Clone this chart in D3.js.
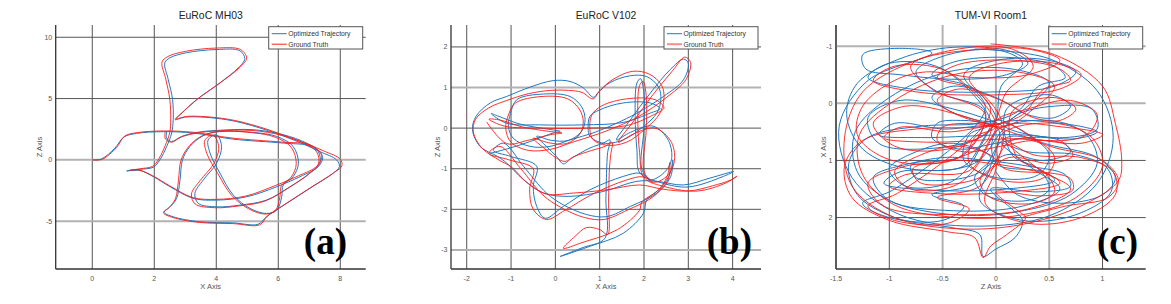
<!DOCTYPE html>
<html>
<head>
<meta charset="utf-8">
<script src="https://cdn.jsdelivr.net/npm/d3@7"></script>
<style>
  body { margin: 0; background: #fff; }
  text { font-family: "Liberation Sans", Arial, sans-serif; }
</style>
</head>
<body>
<svg id="chart" width="1171" height="304"></svg>
<script>
// titles, labels, ticks
const titles = ['EuRoC MH03', 'EuRoC V102', 'TUM-VI Room1'];
const tags = ['(a)', '(b)', '(c)'];
const xLabels = ['X Axis', 'X Axis', 'Z Axis'];
const yLabels = ['Z Axis', 'Z Axis', 'X Axis'];
const legendNames = ['Optimized Trajectory', 'Ground Truth'];

const mh03XTicks = [0, 2, 4, 6, 8];
const mh03YTicks = [-5, 0, 5, 10];
const v102XTicks = [-2, -1, 0, 1, 2, 3, 4];
const v102YTicks = [-3, -2, -1, 0, 1, 2];
const room1XTicks = [-1.5, -1, -0.5, 0, 0.5, 1];
const room1YTicks = [-1, 0, 1, 2];

// EuRoC MH03 (x, z)
const mh03Opt = [[0,0],[0.3,0.08],[0.73,0.96],[1.02,1.86],[1.43,2.16],[2.29,2.3],[3.26,2.19],[4.55,1.69],[6.16,1.37],[7.08,1.09],[7.43,0.27],[7.29,-0.55],[6.7,-1.37],[5.95,-2.19],[4.98,-3.01],[4.01,-3.28],[3.26,-3.14],[2.51,-2.19],[1.97,-1.37],[1.54,-0.87],[1.11,-0.9],[1.54,-0.77],[1.97,-0.6],[2.18,0],[2.4,1.09],[2.56,2.19],[2.61,3.28],[2.59,4.92],[2.45,6.56],[2.34,7.92],[2.51,8.33],[3.04,8.74],[4.01,9.0],[4.76,8.9],[4.92,8.25],[4.71,7.51],[4.12,6.28],[3.37,4.92],[2.83,3.69],[2.67,3.28],[3.04,3.5],[4.33,3.28],[5.41,2.6],[6.48,1.64],[7.34,0.68],[7.88,0],[7.97,-0.55],[7.77,-1.09],[7.02,-2.32],[6.27,-3.55],[5.62,-4.64],[5.35,-5.25],[4.55,-5.14],[3.47,-5.05],[2.61,-4.64],[2.31,-4.26],[2.51,-3.83],[2.72,-3.14],[2.83,-1.64],[2.91,0],[3.15,1.09],[3.58,1.97],[4.12,2.32],[5.19,2.24],[5.95,1.91],[6.48,1.09],[6.65,-0.27],[6.48,-1.37],[6.16,-2.05],[6.11,-3.01],[5.95,-4.1],[5.62,-4.37],[5.09,-3.96],[4.55,-2.87],[4.12,-1.09],[3.8,0.55],[3.74,1.64],[4.01,2.05],[4.17,1.09],[4.01,-0.27],[3.58,-1.64],[3.31,-2.73],[3.42,-3.55],[4.01,-3.83],[4.76,-3.69],[5.62,-3.28],[6.38,-2.19],[7.02,-1.09],[7.34,-0.27],[7.29,0.68],[6.91,1.37],[6.16,2.05],[5.19,2.46],[4.01,2.4],[3.37,2.24],[2.88,1.91],[2.56,1.5],[2.4,1.78],[2.4,2.32]];
const mh03Gt = [[0,0],[0.32,0.05],[0.78,1.0],[1.05,1.95],[1.45,2.22],[2.3,2.36],[3.25,2.25],[4.5,1.78],[6.1,1.45],[7.05,1.2],[7.4,0.35],[7.25,-0.5],[6.65,-1.3],[5.9,-2.1],[4.95,-2.95],[4.0,-3.22],[3.25,-3.08],[2.5,-2.12],[1.95,-1.3],[1.5,-0.82],[1.2,-0.85],[1.55,-0.72],[1.95,-0.52],[2.15,0.1],[2.35,1.15],[2.5,2.25],[2.53,3.35],[2.5,4.95],[2.37,6.6],[2.25,7.98],[2.43,8.42],[3.0,8.85],[4.0,9.12],[4.78,9.0],[4.98,8.3],[4.76,7.55],[4.15,6.33],[3.4,4.97],[2.86,3.75],[2.7,3.35],[3.07,3.55],[4.35,3.33],[5.43,2.66],[6.5,1.7],[7.45,0.75],[8.0,0.05],[8.05,-0.5],[7.82,-1.0],[7.05,-2.25],[6.3,-3.48],[5.65,-4.58],[5.4,-5.3],[4.55,-5.2],[3.45,-5.1],[2.6,-4.7],[2.3,-4.32],[2.48,-3.88],[2.68,-3.18],[2.78,-1.68],[2.86,-0.05],[3.1,1.05],[3.52,1.93],[4.07,2.3],[5.15,2.22],[5.9,1.85],[6.42,1.02],[6.58,-0.32],[6.42,-1.4],[6.1,-2.1],[6.05,-3.05],[5.9,-4.15],[5.58,-4.42],[5.05,-4.0],[4.5,-2.9],[4.05,-1.12],[3.7,0.5],[3.63,1.6],[3.9,2.0],[4.08,1.05],[3.92,-0.3],[3.48,-1.68],[3.2,-2.78],[3.32,-3.6],[3.95,-3.9],[4.72,-3.76],[5.58,-3.35],[6.35,-2.25],[6.98,-1.15],[7.3,-0.3],[7.24,0.64],[6.86,1.33],[6.12,2.0],[5.15,2.4],[4.0,2.35],[3.35,2.18],[2.86,1.85],[2.55,1.44],[2.36,1.72],[2.35,2.28]];

// EuRoC V102 (x, z)
const v102Opt = [[-1.47,-0.62],[-1.02,-0.49],[-0.57,-0.33],[-0.05,-0.12],[0.11,-0.08],[-0.2,-0.02],[-0.8,0.1],[-1.3,0.3],[-1.45,0.36],[-1.1,0.12],[-0.35,0.08],[0.63,0.08],[1.53,0.14],[2.14,0.37],[2.36,0.48],[2.14,0.62],[1.53,0.62],[1.0,0.45],[0.78,0.29],[0.74,0.0],[0.78,-0.2],[1.08,-0.37],[1.53,-0.29],[1.99,0.04],[2.29,0.37],[2.38,0.7],[2.33,1.01],[2.06,1.27],[1.69,1.29],[1.23,1.12],[0.97,0.88],[0.86,0.76],[0.63,0.99],[0.33,1.15],[-0.05,1.17],[-0.57,1.01],[-1.1,0.78],[-1.47,0.62],[-1.79,0.29],[-1.87,-0.04],[-1.7,-0.45],[-1.3,-0.7],[-1.1,-0.86],[-0.72,-1.27],[-0.27,-1.6],[0.33,-1.68],[1.08,-1.56],[1.84,-1.31],[2.29,-1.31],[2.89,-1.4],[3.49,-1.23],[4.02,-1.07],[3.79,-1.19],[3.0,-1.45],[2.4,-1.35],[1.91,-1.11],[1.84,-0.53],[1.8,0.29],[1.84,1.11],[1.92,1.22],[2.0,0.85],[2.0,0.0],[1.95,-1.0],[2.14,-1.27],[2.45,-1.1],[2.62,-0.78],[2.55,-0.3],[2.2,0.05],[1.7,-0.1],[1.38,-0.29],[1.69,0.2],[2.14,0.86],[2.59,1.44],[2.89,1.7],[3.0,1.6],[2.89,1.19],[2.44,0.78],[1.84,0.37],[1.38,0.12],[0.9,-0.1],[0.33,-0.29],[-0.12,-0.45],[-0.57,-0.45],[-0.95,-0.25],[-1.06,0.04],[-1.01,0.37],[-0.87,0.7],[-0.27,0.84],[0.33,0.78],[0.59,0.53],[0.67,0.21],[0.59,-0.08],[0.3,-0.3],[-0.1,-0.3],[-0.42,-0.2],[-0.2,-0.45],[0.03,-0.7],[0.18,-0.88],[0.37,-0.74],[0.78,-0.49],[1.08,-0.37],[1.23,-0.29],[1.18,-0.6],[1.16,-0.94],[1.14,-1.77],[1.12,-2.71],[0.6,-2.95],[0.11,-3.16],[0.78,-2.91],[1.53,-2.59],[1.99,-2.09],[2.06,-1.77],[2.4,-1.45],[2.59,-1.11],[2.65,-0.78],[2.6,-1.2],[2.29,-1.6],[1.69,-1.93],[1.16,-2.18],[0.71,-2.13],[0.18,-1.89],[-0.2,-1.6],[-0.72,-0.94],[-1.17,-0.37],[-1.4,-0.55],[-1.0,-0.7],[-0.42,-0.94],[-0.5,-1.44],[-0.42,-1.93],[-0.23,-2.22],[0.18,-1.93],[0.78,-1.52],[1.53,-1.19],[1.91,-1.11],[2.14,-1.27]];
const v102Gt = [[-1.55,0.15],[-1.1,-0.38],[-0.62,-0.3],[-0.1,-0.16],[0.15,-0.12],[-0.15,-0.08],[-0.75,0.03],[-1.25,0.2],[-1.5,0.22],[-1.15,0.05],[-0.3,0.0],[0.7,0.0],[1.6,0.06],[2.2,0.32],[2.45,0.5],[2.25,0.7],[1.6,0.72],[1.05,0.55],[0.82,0.32],[0.78,-0.05],[0.85,-0.28],[1.15,-0.42],[1.6,-0.35],[2.05,0.0],[2.35,0.35],[2.45,0.72],[2.4,1.05],[2.12,1.33],[1.75,1.4],[1.3,1.2],[1.0,0.92],[0.85,0.72],[0.6,0.88],[0.3,0.93],[-0.1,0.93],[-0.6,0.85],[-1.1,0.68],[-1.5,0.5],[-1.8,0.22],[-1.85,-0.1],[-1.65,-0.5],[-1.25,-0.8],[-1.0,-0.95],[-0.65,-1.33],[-0.2,-1.62],[0.4,-1.6],[1.15,-1.52],[1.9,-1.4],[2.4,-1.5],[3.0,-1.55],[3.55,-1.42],[3.95,-1.28],[4.1,-1.18],[3.85,-1.35],[3.2,-1.55],[2.5,-1.45],[2.0,-1.22],[1.9,-0.6],[1.86,0.22],[1.9,1.05],[1.98,1.15],[2.05,0.8],[2.05,-0.05],[2.0,-1.05],[2.2,-1.33],[2.5,-1.2],[2.68,-0.85],[2.62,-0.35],[2.25,0.0],[1.75,-0.15],[1.42,-0.35],[1.75,0.15],[2.2,0.82],[2.65,1.42],[2.92,1.75],[3.05,1.62],[2.95,1.2],[2.5,0.75],[1.9,0.3],[1.42,0.05],[0.95,-0.15],[0.38,-0.35],[-0.1,-0.52],[-0.6,-0.55],[-1.0,-0.35],[-1.12,0.0],[-1.05,0.35],[-0.9,0.62],[-0.3,0.78],[0.28,0.72],[0.55,0.45],[0.63,0.15],[0.55,-0.15],[0.25,-0.38],[-0.15,-0.36],[-0.5,-0.25],[-0.25,-0.5],[0.0,-0.72],[0.22,-0.82],[0.42,-0.7],[0.82,-0.55],[1.12,-0.45],[1.28,-0.35],[1.25,-0.65],[1.22,-1.0],[1.2,-1.8],[1.18,-2.62],[1.0,-2.5],[0.7,-2.45],[0.45,-2.66],[0.18,-2.96],[0.6,-2.82],[1.4,-2.5],[1.9,-2.02],[1.95,-1.82],[2.3,-1.55],[2.52,-1.2],[2.58,-0.85],[2.55,-1.25],[2.22,-1.68],[1.62,-2.02],[1.1,-2.25],[0.65,-2.2],[0.12,-1.95],[-0.28,-1.65],[-0.78,-1.0],[-1.25,-0.45],[-1.5,-0.62],[-1.05,-0.78],[-0.5,-1.0],[-0.58,-1.5],[-0.5,-2.0],[-0.2,-2.25],[0.22,-2.02],[0.85,-1.62],[1.6,-1.28],[1.98,-1.2],[2.2,-1.35]];

// TUM-VI Room1 (z, x)
const room1Opt = [[-0.2,-0.95],[0.5,-0.78],[0.95,-0.22],[1.1,0.6],[0.95,1.4],[0.5,1.97],[-0.2,2.15],[-0.9,1.95],[-1.35,1.3],[-1.47,0.4],[-1.2,-0.4],[-0.6,-0.88],[-0.95,-0.96],[-1.25,-0.85],[-1.22,-0.6],[-0.9,-0.5],[-0.35,-0.42],[0.1,-0.5],[0.3,-0.7],[0.15,-0.9],[-0.4,-0.98],[-0.9,-0.78],[-1.3,-0.35],[-1.4,0.2],[-1.25,0.8],[-0.8,1.15],[-0.2,1.05],[0.05,0.5],[0.2,0.2],[0.55,0.05],[0.9,0.1],[0.95,0.45],[0.65,0.6],[0.2,0.5],[-0.05,0.3],[-0.4,0.1],[-0.9,-0.05],[-1.2,0.25],[-1.1,0.7],[-0.55,0.78],[-0.1,0.55],[0.0,0.3],[0.05,-0.3],[0.25,-0.7],[0.05,-0.92],[-0.45,-0.85],[-0.75,-0.55],[-0.55,-0.2],[-0.1,0.15],[-0.3,0.9],[-0.8,1.05],[-1.15,1.3],[-1.0,1.7],[-0.4,1.88],[0.25,1.8],[0.6,1.5],[0.35,1.15],[0.05,0.7],[0.3,0.85],[0.75,0.9],[1.05,1.15],[1.08,1.55],[0.75,1.95],[0.25,2.05],[-0.15,1.7],[-0.05,1.1],[0.02,0.45],[-0.5,0.45],[-0.95,0.35],[-1.1,0.55],[-0.7,0.6],[0.2,0.55],[0.75,0.62],[0.95,0.5],[0.6,0.35],[0.0,0.38],[-0.3,1.1],[-0.9,1.2],[-1.05,1.4],[-0.6,1.52],[0.1,1.5],[0.55,1.35],[0.45,1.2],[0.0,1.05],[0.0,0.5],[0.5,0.3],[0.85,0.55],[0.95,1.05],[0.7,1.6],[0.2,1.9],[-0.4,1.95],[-1.0,1.7],[-1.3,1.2],[-1.32,0.5],[-1.0,-0.1],[-0.45,-0.55],[0.15,-0.6],[0.5,-0.35],[0.3,0.05],[0.05,0.35],[-0.3,0.3],[-0.55,0.35],[-0.6,0.6],[-0.35,0.8],[0.0,0.7],[0.3,0.6],[0.6,0.65],[0.7,0.85],[0.45,1.0],[0.1,0.9],[-0.2,1.25],[-0.5,1.35],[-0.75,1.3],[-0.8,1.1],[-0.5,0.95],[-0.1,1.0],[0.3,1.1],[0.65,1.25],[0.7,1.45],[0.4,1.55],[-0.05,1.5],[0.15,1.85],[0.25,2.05],[0.18,2.35],[0.0,2.55],[-0.12,2.68],[-0.15,2.3],[-0.4,2.18],[-0.95,2.0],[-1.3,1.6],[-1.38,1.05],[-1.2,0.6],[-0.7,0.4],[-0.15,0.35],[0.2,0.15],[0.4,-0.3],[0.65,-0.45],[0.55,-0.65],[0.15,-0.8],[-0.4,-0.72],[-0.6,-0.5],[-0.2,-0.25],[0.0,0.3],[-0.35,0.2],[-0.6,-0.1],[-0.4,-0.3],[0.0,-0.1],[0.3,0.2],[0.55,0.25],[0.7,0.05],[0.5,-0.15],[0.1,0.1],[0.15,0.9],[0.4,1.15],[0.5,1.5],[0.3,1.7],[-0.1,1.6],[-0.2,1.3],[-0.05,0.95],[-0.4,0.7],[-0.75,0.85],[-1.0,1.15],[-0.85,1.45],[-0.45,1.4],[-0.25,1.1],[-0.1,0.6],[0.0,0.3],[0.3,0.55],[0.5,0.9],[0.4,1.25],[0.0,1.3],[-0.3,1.0],[-0.25,0.55],[-0.05,0.35],[-0.5,-0.6],[-1.0,-0.7],[-1.2,-0.45],[-0.8,-0.25],[0.0,-0.2],[0.55,-0.3],[0.75,-0.55],[0.5,-0.75],[0.0,-0.75],[-0.3,-0.5],[-0.1,0.1],[-0.95,1.5],[-1.25,1.75],[-1.0,2.0],[-0.5,2.05],[-0.3,1.8],[-0.6,1.6],[-0.2,1.4],[0.1,0.6],[0.55,0.75],[0.95,0.95],[1.12,1.3],[1.0,1.6],[0.6,1.75],[0.2,1.6],[0.0,1.2]];
const room1Gt = [[-0.05,-1.04],[0.55,-0.85],[1.0,-0.3],[1.12,0.35],[1.18,1.0],[1.15,1.35],[0.85,1.75],[0.3,2.1],[-0.3,2.2],[-0.95,2.0],[-1.35,1.45],[-1.42,0.6],[-1.25,-0.2],[-0.75,-0.75],[-0.3,-0.92],[0.3,-0.95],[0.6,-0.75],[0.3,-0.5],[-0.2,-0.45],[-0.65,-0.55],[-0.95,-0.4],[-1.25,0.05],[-1.3,0.55],[-1.05,0.95],[-0.55,1.05],[-0.1,0.7],[0.0,0.3],[0.3,0.1],[0.7,-0.05],[0.95,0.2],[0.85,0.55],[0.45,0.65],[0.05,0.45],[-0.35,0.2],[-0.85,0.05],[-1.15,0.35],[-0.95,0.75],[-0.45,0.8],[-0.05,0.45],[0.1,-0.2],[0.35,-0.65],[0.15,-0.95],[-0.35,-0.95],[-0.8,-0.65],[-0.6,-0.25],[-0.1,0.2],[-0.35,0.95],[-0.85,1.1],[-1.2,1.4],[-1.05,1.8],[-0.35,1.95],[0.3,1.85],[0.7,1.5],[0.4,1.15],[0.05,0.6],[0.35,0.9],[0.8,0.95],[1.1,1.2],[1.12,1.6],[0.8,2.0],[0.3,2.1],[-0.1,1.75],[0.0,1.15],[0.05,0.45],[-0.45,0.5],[-0.9,0.42],[-1.05,0.6],[-0.65,0.68],[0.25,0.62],[0.8,0.7],[1.0,0.55],[0.65,0.42],[0.05,0.42],[-0.25,1.18],[-0.85,1.25],[-1.0,1.45],[-0.55,1.58],[0.15,1.55],[0.6,1.4],[0.5,1.25],[0.05,1.1],[0.05,0.55],[0.55,0.35],[0.9,0.6],[1.0,1.1],[0.75,1.65],[0.25,1.95],[-0.35,2.0],[-0.95,1.78],[-1.25,1.25],[-1.28,0.55],[-0.95,-0.05],[-0.4,-0.5],[0.2,-0.55],[0.55,-0.3],[0.35,0.1],[0.1,0.4],[-0.25,0.35],[-0.5,0.42],[-0.55,0.65],[-0.3,0.85],[0.05,0.75],[0.35,0.65],[0.65,0.72],[0.72,0.92],[0.5,1.05],[0.12,0.95],[-0.15,1.3],[-0.45,1.42],[-0.72,1.38],[-0.78,1.15],[-0.45,1.0],[-0.05,1.05],[0.35,1.18],[0.7,1.32],[0.72,1.52],[0.42,1.62],[0.0,1.55],[0.22,1.9],[0.28,2.0],[0.1,2.3],[-0.05,2.5],[-0.12,2.7],[-0.2,2.35],[-0.45,2.25],[-1.0,2.05],[-1.35,1.65],[-1.42,1.1],[-1.25,0.65],[-0.75,0.45],[-0.1,0.4],[0.25,0.2],[0.45,-0.25],[0.7,-0.4],[0.6,-0.6],[0.2,-0.75],[-0.35,-0.68],[-0.55,-0.45],[-0.15,-0.2],[0.05,0.35],[-0.3,0.25],[-0.55,-0.05],[-0.35,-0.25],[0.05,-0.05],[0.35,0.25],[0.6,0.3],[0.75,0.1],[0.55,-0.1],[0.15,0.15],[0.2,0.95],[0.45,1.2],[0.55,1.55],[0.35,1.75],[-0.05,1.65],[-0.15,1.35],[0.0,1.0],[-0.35,0.75],[-0.7,0.9],[-0.95,1.2],[-0.8,1.5],[-0.4,1.45],[-0.2,1.15],[-0.05,0.65],[0.05,0.35],[0.35,0.6],[0.55,0.95],[0.45,1.3],[0.05,1.35],[-0.25,1.05],[-0.2,0.6],[0.0,0.4],[-0.45,-0.55],[-0.95,-0.65],[-1.15,-0.4],[-0.75,-0.2],[0.05,-0.15],[0.6,-0.25],[0.8,-0.5],[0.55,-0.7],[0.05,-0.7],[-0.25,-0.45],[-0.05,0.15],[-0.9,1.55],[-1.2,1.8],[-0.95,2.05],[-0.45,2.1],[-0.25,1.85],[-0.55,1.65],[-0.15,1.45],[0.15,0.65],[0.6,0.8],[1.0,1.0],[1.15,1.35],[1.05,1.65],[0.65,1.8],[0.25,2.0],[0.28,2.0]];

const optData = [mh03Opt, v102Opt, room1Opt];
const gtData = [mh03Gt, v102Gt, room1Gt];
const xTickSets = [mh03XTicks, v102XTicks, room1XTicks];
const yTickSets = [mh03YTicks, v102YTicks, room1YTicks];

// panel layout (pixels + axis limits)
const panels = [
  { left: 55.7, right: 365.7, xDom: [-1.18, 8.82], yDom: [-8.9, 11], yRev: false,
    lightX: [], lightY: [0, -5], tagRight: 347, ylabX: 42, gtLegendFaded: false },
  { left: 451, right: 761, xDom: [-2.355, 4.64], yDom: [-3.47, 2.54], yRev: false,
    lightX: [], lightY: [1, -3], tagRight: 752, ylabX: 440, gtLegendFaded: true },
  { left: 836, right: 1145.7, xDom: [-1.5, 1.405], yDom: [-1.37, 2.9], yRev: true,
    lightX: [-0.5, 0, 0.5], lightY: [-1, 0], tagRight: 1138, ylabX: 825.5, gtLegendFaded: true }
];
const plotTop = 25, plotBottom = 269;
const blue = '#1f78c1', red = '#ff1a1a';

const svg = d3.select('#chart');

panels.forEach(function(p, i) {
  const x = d3.scaleLinear().domain(p.xDom).range([p.left, p.right]);
  const y = d3.scaleLinear().domain(p.yDom).range(p.yRev ? [plotTop, plotBottom] : [plotBottom, plotTop]);
  const g = svg.append('g');

  // grid
  xTickSets[i].forEach(function(t) {
    const light = p.lightX.indexOf(t) >= 0;
    g.append('line')
      .attr('x1', x(t)).attr('x2', x(t)).attr('y1', plotTop).attr('y2', plotBottom)
      .attr('stroke', light ? '#b2b2b2' : '#555').attr('stroke-width', light ? 2 : 1);
  });
  yTickSets[i].forEach(function(t) {
    const light = p.lightY.indexOf(t) >= 0;
    g.append('line')
      .attr('x1', p.left).attr('x2', p.right).attr('y1', y(t)).attr('y2', y(t))
      .attr('stroke', light ? '#b2b2b2' : '#555').attr('stroke-width', light ? 2 : 1);
  });

  // axes (left + bottom only)
  g.append('line').attr('x1', p.left).attr('x2', p.left).attr('y1', plotTop).attr('y2', plotBottom)
    .attr('stroke', '#333').attr('stroke-width', 1.3);
  g.append('line').attr('x1', p.left).attr('x2', p.right).attr('y1', plotBottom).attr('y2', plotBottom)
    .attr('stroke', '#333').attr('stroke-width', 1.3);

  // tick labels
  g.selectAll('.xt').data(xTickSets[i]).enter().append('text')
    .attr('x', function(d) { return x(d); }).attr('y', plotBottom + 12)
    .attr('text-anchor', 'middle').attr('font-size', 7).attr('fill', '#555')
    .text(function(d) { return String(d); });
  g.selectAll('.yt').data(yTickSets[i]).enter().append('text')
    .attr('x', p.left - 3.5).attr('y', function(d) { return y(d) + 2.5; })
    .attr('text-anchor', 'end').attr('font-size', 7).attr('fill', '#555')
    .text(function(d) { return String(d); });

  // axis labels + title
  g.append('text').attr('x', (p.left + p.right) / 2).attr('y', 289)
    .attr('text-anchor', 'middle').attr('font-size', 7.5).attr('fill', '#555').text(xLabels[i]);
  g.append('text').attr('transform', 'translate(' + p.ylabX + ',' + ((plotTop + plotBottom) / 2) + ') rotate(-90)')
    .attr('text-anchor', 'middle').attr('font-size', 7.5).attr('fill', '#555').text(yLabels[i]);
  g.append('text').attr('x', (p.left + p.right) / 2).attr('y', 19)
    .attr('text-anchor', 'middle').attr('font-size', 10.4).attr('fill', '#222').text(titles[i]);

  // trajectories
  const line = d3.line()
    .x(function(d) { return x(d[0]); })
    .y(function(d) { return y(d[1]); })
    .curve(d3.curveCatmullRom.alpha(0.5));
  g.append('path').datum(optData[i]).attr('d', line)
    .attr('fill', 'none').attr('stroke', blue).attr('stroke-width', 1);
  g.append('path').datum(gtData[i]).attr('d', line)
    .attr('fill', 'none').attr('stroke', red).attr('stroke-width', 0.9);

  // legend
  const lx = p.right - 97, ly = 26.7;
  g.append('rect').attr('x', lx).attr('y', ly).attr('width', 94).attr('height', 22.3)
    .attr('fill', '#fff').attr('stroke', '#555').attr('stroke-width', 1);
  [blue, red].forEach(function(c, k) {
    const yy = ly + 7 + k * 10.5;
    const faded = k === 1 && p.gtLegendFaded;
    g.append('line').attr('x1', lx + 3).attr('x2', lx + 18).attr('y1', yy).attr('y2', yy)
      .attr('stroke', faded ? '#ff8a8a' : c).attr('stroke-width', faded ? 2 : 1);
    g.append('text').attr('x', lx + 19.5).attr('y', yy + 2.4)
      .attr('font-size', 6.8).attr('fill', '#333').text(legendNames[k]);
  });

  // panel tag
  g.append('text').attr('x', p.tagRight).attr('y', 254)
    .attr('text-anchor', 'end').attr('font-size', 37).attr('font-weight', 'bold')
    .style('font-family', '"Liberation Serif", "DejaVu Serif", serif')
    .attr('fill', '#000').text(tags[i]);
});
</script>
</body>
</html>
